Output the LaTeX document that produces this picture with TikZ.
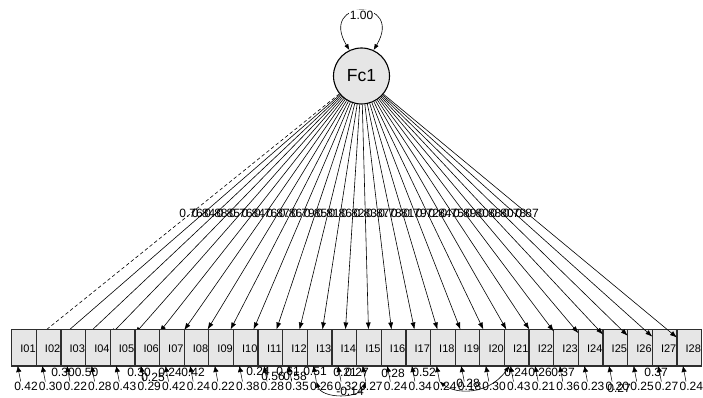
\documentclass[tikz,border=0pt]{standalone}
\usepackage{fontspec}
\setmainfont{Liberation Sans}
\usetikzlibrary{arrows.meta,calc}
\definecolor{boxgray}{HTML}{E6E6E6}
\definecolor{edgegray}{HTML}{2E2E2E}
\begin{document}
\begin{tikzpicture}[x=1pt,y=-1pt,
  obs/.style={draw=edgegray, line width=1.3pt, fill=boxgray, minimum width=24.64pt,
    minimum height=36.5pt, inner sep=0pt, outer sep=0pt},
  latent/.style={circle, draw=black, line width=1.1pt, fill=boxgray, minimum size=56pt,
    inner sep=0pt, font=\fontsize{17.5}{18}\selectfont},
  vname/.style={font=\fontsize{11}{12}\selectfont, inner sep=0pt},
  est/.style={font=\fontsize{12}{13}\selectfont, inner sep=0pt},
  load/.style={line width=0.6pt, -{Latex[length=7pt,width=5pt]}},
  errarrow/.style={line width=0.5pt, -{Latex[length=6pt,width=5.5pt]}},
  cov/.style={line width=0.6pt, {Latex[length=6pt,width=4.5pt]}-{Latex[length=6pt,width=4.5pt]}},
]
\useasboundingbox (0,0) rectangle (703,398);

% latent factor with its fixed variance
\node[latent] (fc) at (361.5,76) {Fc1};
\draw[cov] (fc.115) .. controls (318,-2) and (405,-2) .. (fc.65);
\node[est, fill=white, inner sep=0.6pt] (fcvar) at (361.5,15) {1.00};

% indicators: name / loading / error variance
\foreach \i/\ld/\ev [count=\k from 0] in {
  01/0.76/0.42, 02/0.84/0.30, 03/0.88/0.22, 04/0.85/0.28, 05/0.76/0.43,
  06/0.84/0.29, 07/0.76/0.42, 08/0.87/0.24, 09/0.86/0.22, 10/0.79/0.38,
  11/0.85/0.28, 12/0.81/0.35, 13/0.86/0.26, 14/0.82/0.32, 15/0.83/0.27,
  16/0.87/0.24, 17/0.78/0.34, 18/0.81/0.24, 19/0.79/0.18, 20/0.72/0.30,
  21/0.84/0.43, 22/0.75/0.21, 23/0.89/0.36, 24/0.80/0.23, 25/0.88/0.20,
  26/0.80/0.25, 27/0.78/0.27, 28/0.87/0.24} {
  \pgfmathsetmacro\xc{24+24.64*\k}
  \node[obs] (b\i) at (\xc,347.75) {};
  \node[vname] (t\i) at (\xc+4,348.5) {I\i};
  \ifnum\k=0
    \draw[load, dash pattern=on 3.5pt off 2.5pt] (fc) -- (b\i);
  \else
    \draw[load] (fc) -- (b\i);
  \fi
  \node[est] (l\i) at ($(fc)!0.505!(b\i)$) {\ld};
  \coordinate (e\i) at (\xc-3.3,381.5);
  \draw[errarrow] (e\i) -- ([xshift=6pt]b\i.south west);
  \node[est] (v\i) at (\xc+2,386) {\ev};
}

% error covariances
\coordinate (c21) at ([xshift=5pt]b21.south west);
\draw[cov] (e13) .. controls (322,399) and (360,399) .. (e15);
\draw[cov] (e18) .. controls (455,394) and (488,396) .. (c21);

\foreach \n/\x/\y/\t in {
  k1/63/372/0.30, k2/86.5/372/0.50, k3/139/372/0.30, k4/153/377/0.25,
  k5/170/372/0.24, k6/193/372/0.42, k7/258/371/0.24, k8/273/376/0.56,
  k9/288/371/0.61, k10/295/376/0.58, k11/315/371/0.51, k12/345/372/0.21,
  k13/357/372/0.27, k14/350/391.5/-0.14, k15/393/373/0.28, k16/424/372/0.52,
  k17/468/383/0.28, k18/516/372/0.24, k19/540/372/0.26, k20/563/372/0.37,
  k21/619/388.5/0.27, k22/656/372/0.37} {
  \node[est] (\n) at (\x,\y) {\t};
}
\end{tikzpicture}
\end{document}
